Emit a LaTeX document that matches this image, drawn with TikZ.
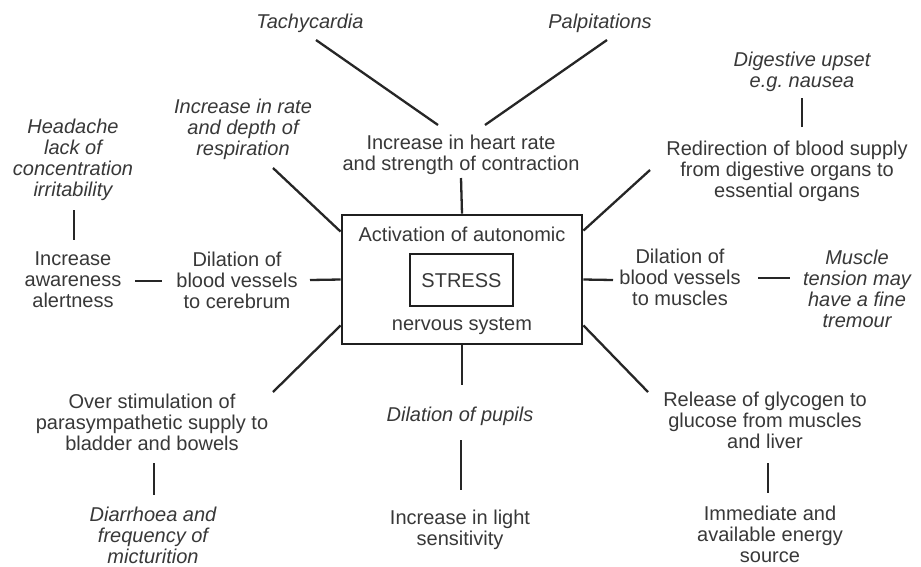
\documentclass[tikz,border=0pt]{standalone}
\usepackage{fontspec}
\setmainfont{Liberation Sans}
\usetikzlibrary{calc}
\begin{document}
\begin{tikzpicture}[x=1pt,y=-1pt,
  lbl/.style={anchor=base, align=center, inner sep=0pt, text=black!78,
              font=\fontsize{20}{21}\selectfont},
  sym/.style={lbl, font=\fontsize{20}{21}\selectfont\itshape},
  link/.style={line width=2.3pt, black!85},
  frame/.style={draw=black!88, inner sep=0pt}]
\useasboundingbox[fill=white] (0,0) rectangle (921,566);

% central box (text nodes are placed by the baseline of their last line)
\node[frame, line width=2.8pt, minimum width=240pt, minimum height=129pt] (box) at (462,279.5) {};
\node[frame, line width=2.4pt, minimum width=103pt, minimum height=52pt] (stress) at (461.5,280) {};
\node[lbl] (stresstxt) at (461.5,287) {STRESS};
\node[lbl] (activ) at (462,241) {Activation of autonomic};
\node[lbl] (nerv) at (462,330) {nervous system};

% effects and symptoms
\node[sym] (tachy) at (310,28) {Tachycardia};
\node[sym] (palp) at (600,28) {Palpitations};
\node[lbl] (heart) at (461,170) {Increase in heart rate\\and strength of contraction};
\node[sym] (resp) at (243,155) {Increase in rate\\and depth of\\respiration};
\node[sym] (head) at (73,196) {Headache\\lack of\\concentration\\irritability};
\node[lbl] (aware) at (73,307) {Increase\\awareness\\alertness};
\node[lbl] (cereb) at (237,308) {Dilation of\\blood vessels\\to cerebrum};
\node[lbl] (musc) at (680,305) {Dilation of\\blood vessels\\to muscles};
\node[sym] (tremor) at (857,327) {Muscle\\tension may\\have a fine\\tremour};
\node[lbl] (redir) at (787,197) {Redirection of blood supply\\from digestive organs to\\essential organs};
\node[sym] (digest) at (802,87) {Digestive upset\\e.g.\ nausea};
\node[lbl] (bladder) at (152,450) {Over stimulation of\\parasympathetic supply to\\bladder and bowels};
\node[sym] (diarr) at (153,563) {Diarrhoea and\\frequency of\\micturition};
\node[lbl] (glyc) at (765,448) {Release of glycogen to\\glucose from muscles\\and liver};
\node[lbl] (energy) at (770,562) {Immediate and\\available energy\\source};
\node[sym] (pupils) at (460,421) {Dilation of pupils};
\node[lbl] (light) at (460,545) {Increase in light\\sensitivity};

% connectors
\draw[link] ($(tachy.base)+(6,12)$) -- ($(heart.base)+(-23,-45)$);
\draw[link] ($(palp.base)+(7,12)$) -- ($(heart.base)+(24,-45)$);
\draw[link] ($(heart.base)+(0,8)$) -- (box.north);
\draw[link] ($(resp.base)+(30,13)$) -- ($(box.north west)+(0,18)$);
\draw[link] ($(head.base)+(1,14)$) -- ($(aware.base)+(1,-67)$);
\draw[link] ($(aware.base)+(62,-26)$) -- ($(cereb.base)+(-75,-27)$);
\draw[link] ($(cereb.base)+(73,-28)$) -- (box.west);
\draw[link] (box.east) -- ($(musc.base)+(-67,-25)$);
\draw[link] ($(musc.base)+(78,-27)$) -- ($(tremor.base)+(-67,-49)$);
\draw[link] ($(box.north east)+(0,17)$) -- ($(redir.base)+(-137,-27)$);
\draw[link] ($(redir.base)+(15,-70)$) -- ($(digest.base)+(0,11)$);
\draw[link] ($(box.south west)+(0,-20)$) -- ($(bladder.base)+(121,-58)$);
\draw[link] ($(bladder.base)+(2,13)$) -- ($(diarr.base)+(1,-68)$);
\draw[link] ($(box.south east)+(0,-20)$) -- ($(glyc.base)+(-117,-56)$);
\draw[link] ($(glyc.base)+(3,15)$) -- ($(energy.base)+(-2,-69)$);
\draw[link] (box.south) -- ($(pupils.base)+(2,-36)$);
\draw[link] ($(pupils.base)+(1,19)$) -- ($(light.base)+(1,-55)$);
\end{tikzpicture}
\end{document}
